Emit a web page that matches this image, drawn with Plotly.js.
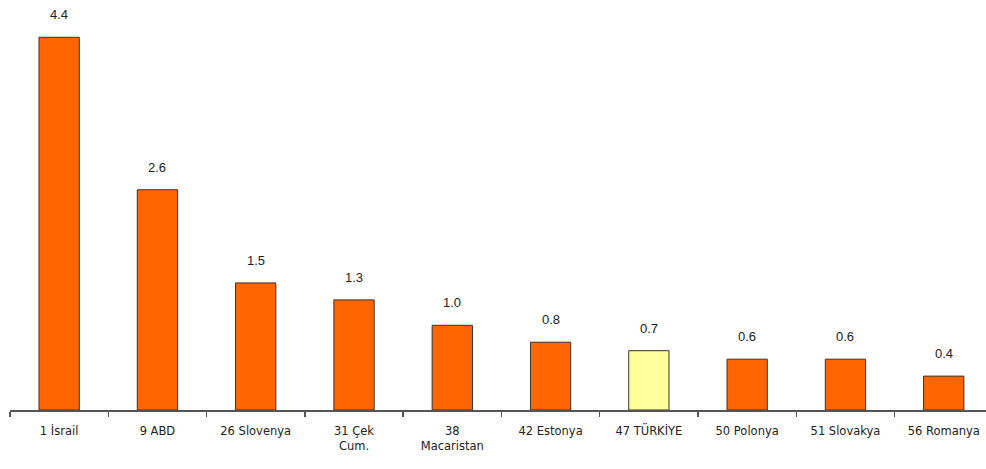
<!DOCTYPE html>
<html>
<head>
<meta charset="utf-8">
<script src="https://cdn.plot.ly/plotly-3.0.1.min.js"></script>
<style>html,body{margin:0;padding:0;background:#fff;}#chart{width:986px;height:469px;}</style>
</head>
<body>
<div id="chart"></div>
<script>
const categories = ["1 İsrail", "9 ABD", "26 Slovenya", "31 Çek<br>Cum.", "38<br>Macaristan", "42 Estonya", "47 TÜRKİYE", "50 Polonya", "51 Slovakya", "56 Romanya"];
const values = [4.4, 2.6, 1.5, 1.3, 1.0, 0.8, 0.7, 0.6, 0.6, 0.4];
const valueLabels = ["4.4", "2.6", "1.5", "1.3", "1.0", "0.8", "0.7", "0.6", "0.6", "0.4"];
const highlight = "47 TÜRKİYE";

const colors = categories.map(c => c === highlight ? "#FFFF99" : "#FF6600");

const trace = {
  type: "bar",
  x: categories,
  y: values,
  width: 0.41,
  marker: {color: colors, line: {color: "#333333", width: 1}},
  hoverinfo: "skip"
};

const annotations = categories.map((c, i) => ({
  x: c, y: values[i], xref: "x", yref: "y",
  text: valueLabels[i], showarrow: false,
  yanchor: "bottom", yshift: 13,
  font: {family: "Liberation Sans, Arial, sans-serif", size: 13, color: "#222"}
}));

const layout = {
  width: 986, height: 469,
  margin: {l: 10, r: 0, t: 0, b: 59},
  paper_bgcolor: "#fff", plot_bgcolor: "#fff",
  showlegend: false,
  bargap: 0.59,
  xaxis: {
    type: "category",
    range: [-0.5, 9.43],
    showline: true, linecolor: "#555", linewidth: 1.5,
    ticks: "outside", tickson: "boundaries", ticklen: 5, tickcolor: "#555", tickwidth: 1.5,
    ticklabelstandoff: 10,
    tickfont: {family: "DejaVu Sans, Verdana, sans-serif", size: 11.5, color: "#222"},
    tickangle: 0,
    showgrid: false, zeroline: false, fixedrange: true
  },
  yaxis: {
    range: [0, 4.84],
    visible: false, showgrid: false, zeroline: false, fixedrange: true
  },
  annotations: annotations
};

Plotly.newPlot("chart", [trace], layout, {displayModeBar: false, staticPlot: true});
</script>
</body>
</html>
